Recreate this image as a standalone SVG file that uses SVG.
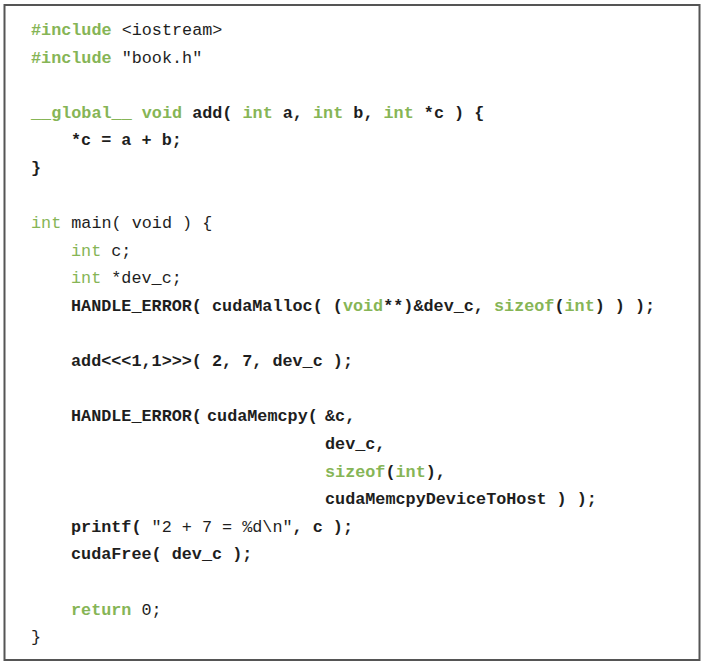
<svg xmlns="http://www.w3.org/2000/svg" width="706" height="667" viewBox="0 0 706 667">
<style>
text{font-family:"Liberation Mono","Courier New",monospace;font-size:16.8px;fill:#1e1e1e;white-space:pre}
.k{fill:#86b556;font-weight:bold}
.kn{fill:#86b556}
.b{font-weight:bold}
</style>
<rect x="0" y="0" width="706" height="667" fill="#ffffff"/>
<rect id="frame" x="4.5" y="5" width="695" height="655" fill="#ffffff" stroke="#555555" stroke-width="2"/>
<g id="code" xml:space="preserve">
<text x="31" y="35"><tspan class="k">#include</tspan> &lt;iostream&gt;</text>
<text x="31" y="62.6"><tspan class="k">#include</tspan> "book.h"</text>
<text x="31" y="117.8"><tspan class="k">__global__ void</tspan><tspan class="b"> add( </tspan><tspan class="k">int</tspan><tspan class="b"> a, </tspan><tspan class="k">int</tspan><tspan class="b"> b, </tspan><tspan class="k">int</tspan><tspan class="b"> *c ) {</tspan></text>
<text x="71" y="145.4" class="b">*c = a + b;</text>
<text x="31" y="173" class="b">}</text>
<text x="31" y="228.2"><tspan class="kn">int</tspan> main( void ) {</text>
<text x="71" y="255.8"><tspan class="kn">int</tspan> c;</text>
<text x="71" y="283.4"><tspan class="kn">int</tspan> *dev_c;</text>
<text x="71" y="311"><tspan class="b">HANDLE_ERROR( cudaMalloc( (</tspan><tspan class="k">void</tspan><tspan class="b">**)&amp;dev_c, </tspan><tspan class="k">sizeof</tspan><tspan class="b">(</tspan><tspan class="k">int</tspan><tspan class="b">) ) );</tspan></text>
<text x="71" y="366.2" class="b">add&lt;&lt;&lt;1,1&gt;&gt;&gt;( 2, 7, dev_c );</text>
<text x="71" y="421.4" class="b">HANDLE_ERROR(</text>
<text x="207" y="421.4" class="b">cudaMemcpy(</text>
<text x="325" y="421.4" class="b">&amp;c,</text>
<text x="325" y="449" class="b">dev_c,</text>
<text x="325" y="476.6"><tspan class="k">sizeof</tspan><tspan class="b">(</tspan><tspan class="k">int</tspan><tspan class="b">),</tspan></text>
<text x="325" y="504.2" class="b">cudaMemcpyDeviceToHost ) );</text>
<text x="71" y="531.8"><tspan class="b">printf( </tspan>"2 + 7 = %d\n"<tspan class="b">, c );</tspan></text>
<text x="71" y="559.4" class="b">cudaFree( dev_c );</text>
<text x="71" y="614.6"><tspan class="k">return</tspan> 0;</text>
<text x="31" y="642.2">}</text>
</g>
</svg>
